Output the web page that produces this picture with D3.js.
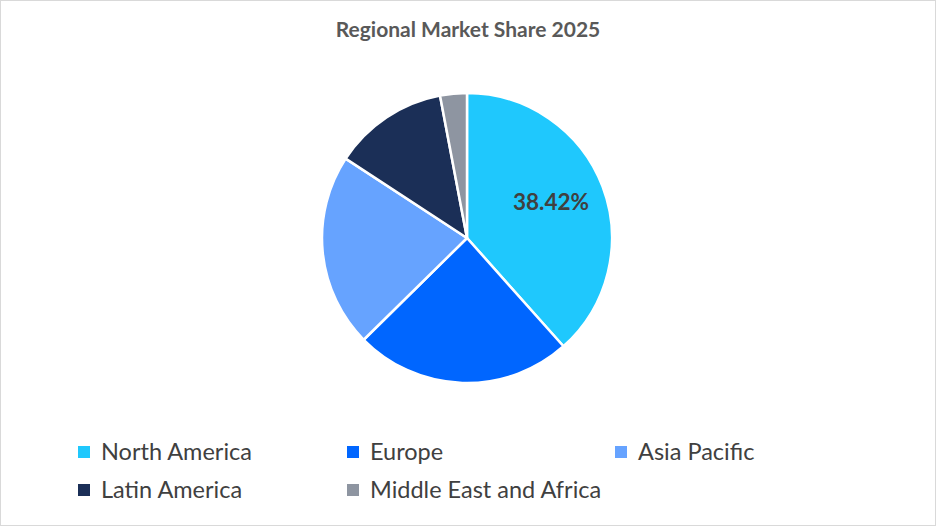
<!DOCTYPE html>
<html><head><meta charset="utf-8">
<script src="https://cdn.jsdelivr.net/npm/d3@7"></script>
<style>body{margin:0;background:#fff}svg{font-family:Lato,"Open Sans",sans-serif}</style>
</head><body><svg width="937" height="527"></svg>
<script>
const regions = ["North America","Europe","Asia Pacific","Latin America","Middle East and Africa"];
const shares = [38.42, 24.2, 21.6, 12.8, 2.98];
const colors = ["#1FC8FD","#0066FF","#66A3FF","#1B2F57","#8E95A1"];

const svg = d3.select("svg");
svg.append("rect").attr("x",0.5).attr("y",0.5).attr("width",935).attr("height",525)
  .attr("fill","#fff").attr("stroke","#d9d9d9");

svg.append("text").attr("x",468).attr("y",37).attr("text-anchor","middle")
  .attr("font-size",21).attr("font-weight","bold").attr("fill","#595959")
  .text("Regional Market Share 2025");

const r = 145;
const g = svg.append("g").attr("transform","translate(467,238)");
const pie = d3.pie().sort(null).value(d => d)(shares);
const arc = d3.arc().innerRadius(0).outerRadius(r);
g.selectAll("path").data(pie).enter().append("path")
  .attr("d", arc).attr("fill",(d,i)=>colors[i])
  .attr("stroke","#fff").attr("stroke-width",2.5).attr("stroke-linejoin","round");

const lab = d3.arc().innerRadius(r*0.62).outerRadius(r*0.62);
const c = lab.centroid(pie[0]);
g.append("text").attr("x",c[0]).attr("y",c[1]-4).attr("dy","0.35em")
  .attr("text-anchor","middle").attr("font-size",22.5).attr("font-weight","bold")
  .attr("fill","#404040").text(shares[0].toFixed(2)+"%");

const cols = [78,347,615], rows = [452,490];
regions.forEach((name,i)=>{
  const x = cols[i%3], y = rows[Math.floor(i/3)];
  svg.append("rect").attr("x",x).attr("y",y-6).attr("width",12).attr("height",12).attr("fill",colors[i]);
  svg.append("text").attr("x",x+23).attr("y",y).attr("dy","0.35em")
    .attr("font-size",23.5).attr("fill","#404040").text(name);
});
</script></body></html>
